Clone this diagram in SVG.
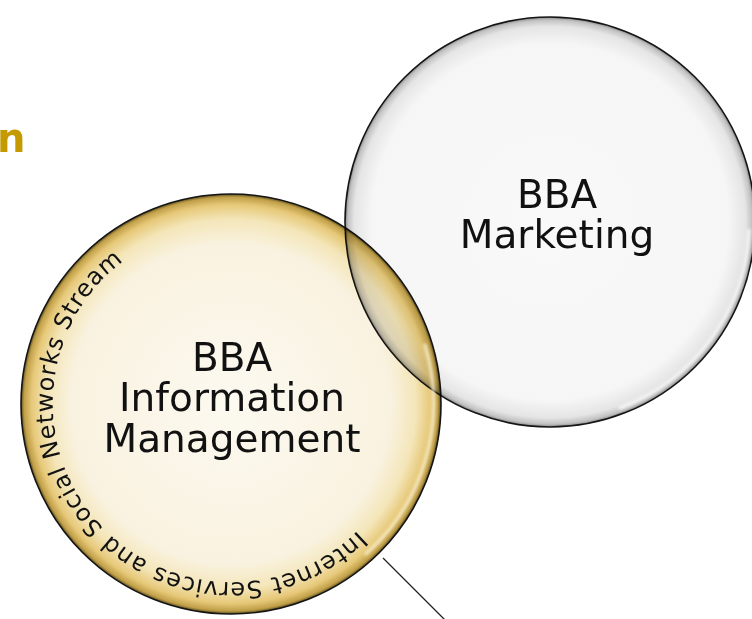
<svg xmlns="http://www.w3.org/2000/svg" width="752" height="619" viewBox="0 0 752 619">
<style>
.lbl{font-family:"DejaVu Sans","Liberation Sans",sans-serif;font-size:39px;fill:#111;text-anchor:middle}
.arc{font-family:"DejaVu Sans","Liberation Sans",sans-serif;font-size:24px;fill:#111;letter-spacing:0.8px}
.title{font-family:"DejaVu Sans","Liberation Sans",sans-serif;font-weight:bold;font-size:40px;fill:#C49A00}
.conn{stroke:#222;stroke-width:1.3;fill:none}
.rim{stroke:#151515;stroke-width:1.6}
.hl{fill:none;stroke-linecap:round;filter:url(#soft)}
</style>
<defs>
<filter id="soft" x="-20%" y="-20%" width="140%" height="140%"><feGaussianBlur stdDeviation="1.6"/></filter>
<radialGradient id="gIM" cx="0.5" cy="0.5" r="0.5">
<stop offset="0" stop-color="#FCF9F0"/>
<stop offset="0.76" stop-color="#F9F2E0"/>
<stop offset="0.88" stop-color="#F4E6B9"/>
<stop offset="0.95" stop-color="#E6C878"/>
<stop offset="0.985" stop-color="#C09F48"/>
<stop offset="1" stop-color="#5E4F20"/>
</radialGradient>
<radialGradient id="gMk" cx="0.5" cy="0.5" r="0.5">
<stop offset="0" stop-color="#F9F9F9"/>
<stop offset="0.87" stop-color="#F6F6F6"/>
<stop offset="0.955" stop-color="#E5E5E5"/>
<stop offset="0.985" stop-color="#C2C2C2"/>
<stop offset="1" stop-color="#888888"/>
</radialGradient>
<path id="arcPath" d="M 357.57 530.57 A 179 179 0 0 1 104.43 277.43 A 179 179 0 0 1 357.57 530.57"/>
</defs>
<rect width="752" height="619" fill="#FFFFFF"/>
<g id="title">
<text class="title" x="-3" y="152">n</text>
</g>
<g id="connectors">
<line class="conn" x1="383" y1="558" x2="445" y2="620"/>
</g>
<g id="node-marketing">
<circle class="rim" cx="550" cy="222" r="205" fill="url(#gMk)"/>
<path class="hl" d="M 749 230 A 199 199 0 0 1 620 408" stroke="#FFFFFF" stroke-width="3" opacity="0.9"/>
<text class="lbl" x="557" y="208">BBA</text>
<text class="lbl" x="557" y="248">Marketing</text>
</g>
<g id="node-im">
<circle class="rim" cx="231" cy="404" r="210" fill="url(#gIM)" style="mix-blend-mode:multiply"/>
<path class="hl" d="M 425 345 A 202 202 0 0 1 366 554" stroke="#FFF8DE" stroke-width="3" opacity="0.85"/>
<text class="lbl" x="232" y="371">BBA</text>
<text class="lbl" x="232" y="411">Information</text>
<text class="lbl" x="232" y="452">Management</text>
<text class="arc"><textPath href="#arcPath">Internet Services and Social Networks Stream</textPath></text>
</g>
</svg>
